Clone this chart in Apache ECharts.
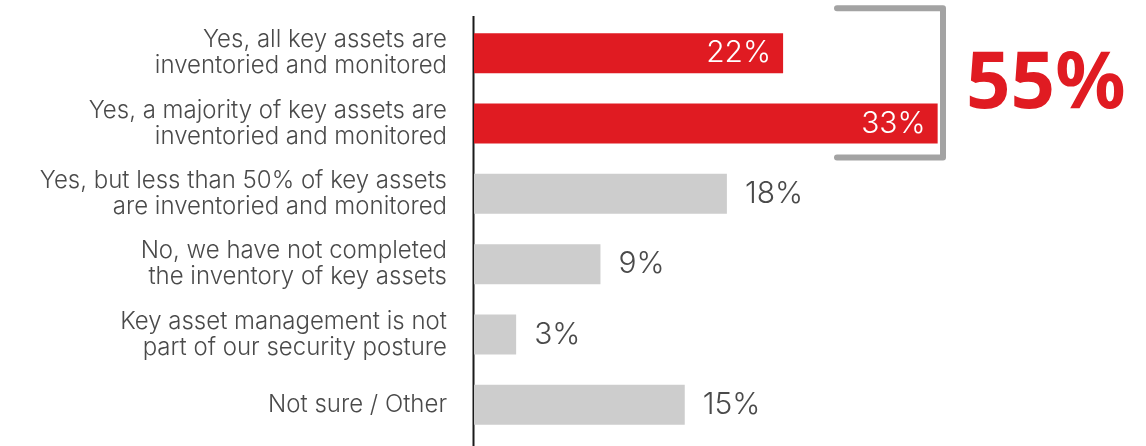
<!DOCTYPE html>
<html>
<head>
<meta charset="utf-8">
<script src="https://cdn.jsdelivr.net/npm/echarts@6/dist/echarts.min.js"></script>
<style>
  html, body { margin: 0; padding: 0; background: #ffffff; }
  #chart { width: 1146px; height: 446px; }
</style>
</head>
<body>
<div id="chart"></div>
<script>
// Survey answers, top to bottom
const categories = [
  'Yes, all key assets are\ninventoried and monitored',
  'Yes, a majority of key assets are\ninventoried and monitored',
  'Yes, but less than 50% of key assets\nare inventoried and monitored',
  'No, we have not completed\nthe inventory of key assets',
  'Key asset management is not\npart of our security posture',
  'Not sure / Other'
];
// Share of respondents (%)
const values = [22, 33, 18, 9, 3, 15];
// Answers grouped under the bracket total
const groupedIdx = [0, 1];

const RED = '#e01b22';
const GREY = '#cdcdcd';
const TEXT = '#4a4a4a';
const FONT = 'Inter, "Open Sans", sans-serif';

const groupTotal = groupedIdx.reduce((s, i) => s + values[i], 0);

const seriesData = values.map((v, i) => {
  const inGroup = groupedIdx.includes(i);
  return {
    value: v,
    itemStyle: { color: inGroup ? RED : GREY },
    label: inGroup
      ? { position: 'insideRight', distance: 12, color: '#ffffff' }
      : { position: 'right', distance: 18, color: TEXT }
  };
});

const chart = echarts.init(document.getElementById('chart'), null, { renderer: 'canvas' });

chart.setOption({
  animation: false,
  backgroundColor: '#ffffff',
  grid: { left: 474, top: 18, height: 422, width: 562, containLabel: false },
  xAxis: {
    type: 'value', min: 0, max: 40,
    show: false
  },
  yAxis: {
    type: 'category',
    data: categories,
    inverse: true,
    axisLine: { show: false },
    axisTick: { show: false },
    axisLabel: {
      margin: 27,
      align: 'right',
      fontFamily: FONT,
      fontWeight: 300,
      fontSize: 24,
      lineHeight: 26,
      color: TEXT
    }
  },
  series: [{
    type: 'bar',
    barWidth: 40,
    data: seriesData,
    label: {
      show: true,
      formatter: '{c}%',
      fontFamily: FONT,
      fontWeight: 300,
      fontSize: 30
    }
  }]
});

// Baseline and bracket annotation around the grouped answers
const x0 = chart.convertToPixel({ gridIndex: 0 }, [0, 0])[0];
const yTop = chart.convertToPixel({ gridIndex: 0 }, [0, groupedIdx[0]])[1] - 45;
const yBot = chart.convertToPixel({ gridIndex: 0 }, [0, groupedIdx[groupedIdx.length - 1]])[1] + 34;

chart.setOption({
  graphic: [
    {
      type: 'line',
      shape: { x1: x0 - 0.5, y1: 16, x2: x0 - 0.5, y2: 446 },
      style: { stroke: '#1a1a1a', lineWidth: 2 }
    },
    {
      type: 'polyline',
      shape: { points: [[837, yTop], [943, yTop], [943, yBot], [837, yBot]] },
      style: { stroke: '#a3a3a3', lineWidth: 6, fill: null, lineJoin: 'round', lineCap: 'round' }
    },
    {
      type: 'text',
      left: 966,
      top: (yTop + yBot) / 2 - 36,
      style: {
        text: groupTotal + '%',
        fill: RED,
        font: 'bold 78px "Noto Sans", sans-serif'
      }
    }
  ]
});
</script>
</body>
</html>
